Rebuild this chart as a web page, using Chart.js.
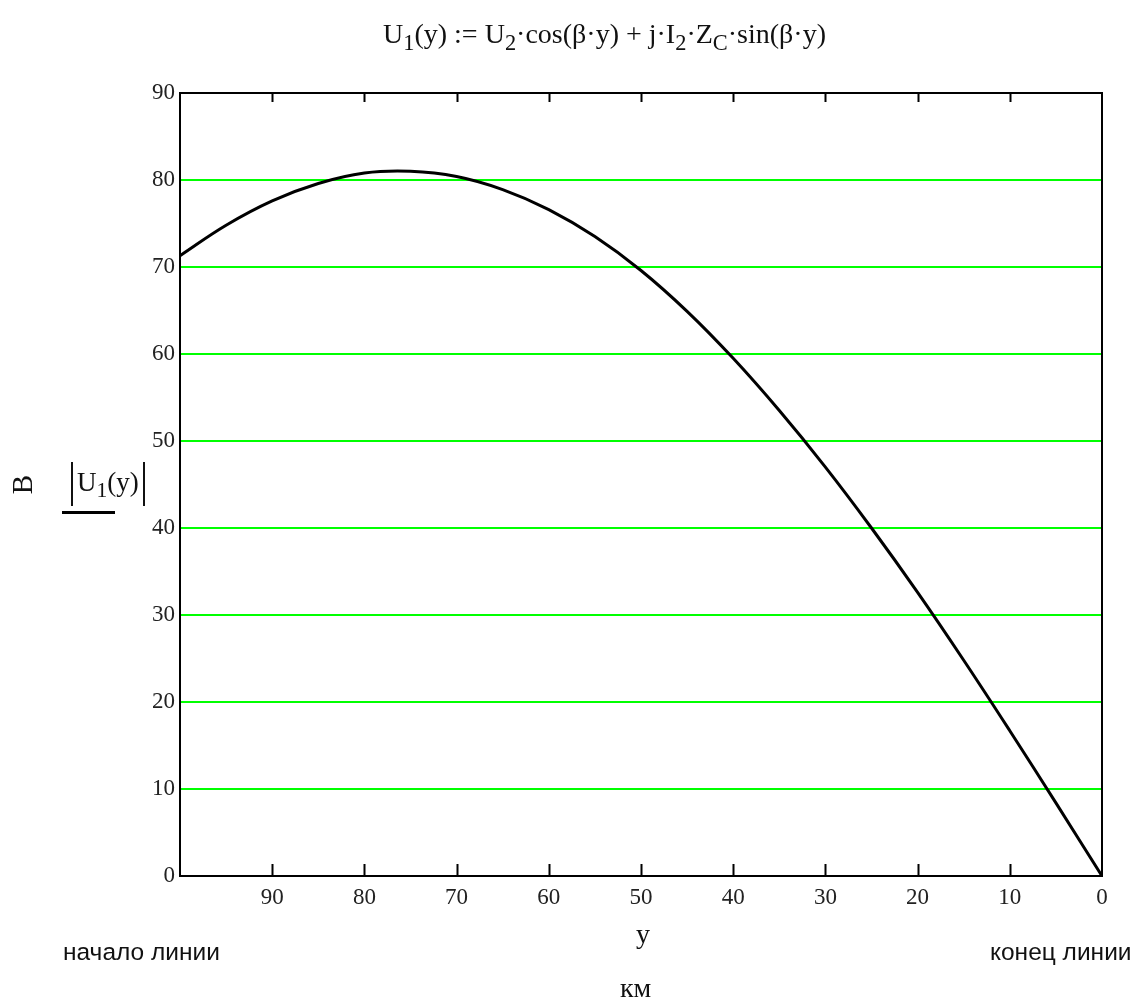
<!DOCTYPE html>
<html lang="ru">
<head>
    <meta charset="UTF-8">
    <title>U1(y)</title>
    <style>
        body { margin: 0; background: #fff; width: 1145px; height: 1007px; position: relative; overflow: hidden; }
        #chartBox { position: absolute; left: 0; top: 0; width: 1145px; height: 1007px; }
        .lbl { position: absolute; white-space: nowrap; color: #111; }
        .serif { font-family: "Liberation Serif", "DejaVu Serif", serif; }
        .sans { font-family: "Liberation Sans", Arial, sans-serif; }
        .sb { font-size: 80%; position: relative; top: 0.3em; }
        #title { left: 383px; top: 18px; font-size: 28px; }
        #yUnit { left: 13px; top: 468px; font-size: 29px; transform: rotate(-90deg); transform-origin: center; }
        #yExpr { left: 71px; top: 462px; height: 44px; font-size: 27px; line-height: 40px;
                 border-left: 2px solid #111; border-right: 2px solid #111; padding: 0 4px; }
        #trace { position: absolute; left: 62px; top: 511px; width: 53px; height: 3px; background: #000; }
        #xVar { left: 636px; top: 918px; font-size: 28px; }
        #xUnit { left: 620px; top: 972px; font-size: 28px; }
        #startTxt { left: 63px; top: 938px; font-size: 24.5px; }
        #endTxt { left: 990px; top: 938px; font-size: 24.5px; }
    </style>
</head>
<body>
    <div id="chartBox"><canvas id="uChart" width="1145" height="1007"></canvas></div>

    <div id="title" class="lbl serif">U<span class="sb">1</span>(y) := U<span class="sb">2</span>·cos(β·y) + j·I<span class="sb">2</span>·Z<span class="sb">C</span>·sin(β·y)</div>
    <div id="yUnit" class="lbl serif">В</div>
    <div id="yExpr" class="lbl serif">U<span class="sb">1</span>(y)</div>
    <div id="trace"></div>
    <div id="xVar" class="lbl serif">у</div>
    <div id="xUnit" class="lbl serif">км</div>
    <div id="startTxt" class="lbl sans">начало линии</div>
    <div id="endTxt" class="lbl sans">конец линии</div>

    <script src="https://cdn.jsdelivr.net/npm/chart.js"></script>
    <script>
        // расстояние от конца линии, км
        const kmValues = [0, 5, 10, 15, 20, 25, 30, 35, 40, 45, 50, 55, 60, 65, 70, 75, 80, 85, 90, 95, 100];
        // |U1(y)|, В
        const voltValues = [0, 8.4, 16.7, 24.8, 32.6, 40.0, 47.0, 53.5, 59.5, 64.9, 69.6, 73.5, 76.6, 78.9, 80.4, 81.0, 80.8, 79.6, 77.6, 74.8, 71.3];
        const xTicks = [0, 10, 20, 30, 40, 50, 60, 70, 80, 90];
        const yTicks = [0, 10, 20, 30, 40, 50, 60, 70, 80, 90];

        const points = kmValues.map((km, i) => ({ x: km, y: voltValues[i] }));
        const tickFont = { family: '"Liberation Serif", "DejaVu Serif", serif', size: 23 };

        // рамка и внутренние засечки по оси x
        const framePlugin = {
            id: 'frame',
            beforeDatasetsDraw(chart) {
                const { ctx, chartArea: a, scales } = chart;
                ctx.save();
                ctx.strokeStyle = '#000';
                ctx.lineWidth = 2;
                ctx.strokeRect(a.left, a.top, a.right - a.left, a.bottom - a.top);
                ctx.beginPath();
                xTicks.forEach(v => {
                    if (v === 0) return;
                    const px = Math.round(scales.x.getPixelForValue(v)) + 0.5;
                    ctx.moveTo(px, a.bottom);
                    ctx.lineTo(px, a.bottom - 12);
                    ctx.moveTo(px, a.top);
                    ctx.lineTo(px, a.top + 9);
                });
                ctx.stroke();
                ctx.restore();
            }
        };

        new Chart(document.getElementById('uChart'), {
            type: 'line',
            data: {
                datasets: [{
                    data: points,
                    borderColor: '#000',
                    borderWidth: 3,
                    pointRadius: 0,
                    tension: 0.4,
                    fill: false
                }]
            },
            options: {
                responsive: false,
                animation: false,
                events: [],
                layout: { padding: { left: 0, right: 43, top: 93, bottom: 0 } },
                plugins: { legend: { display: false }, tooltip: { enabled: false } },
                scales: {
                    x: {
                        type: 'linear',
                        reverse: true,
                        min: 0,
                        max: 100,
                        afterBuildTicks: s => { s.ticks = xTicks.map(v => ({ value: v })); },
                        afterFit: s => { s.height = 131; },
                        ticks: { font: tickFont, color: '#222', padding: 8, maxRotation: 0, autoSkip: false },
                        grid: { display: false, drawTicks: false },
                        border: { display: false }
                    },
                    y: {
                        min: 0,
                        max: 90,
                        afterBuildTicks: s => { s.ticks = yTicks.map(v => ({ value: v })); },
                        afterFit: s => { s.width = 180; },
                        ticks: { font: tickFont, color: '#222', padding: 5 },
                        grid: { color: '#00ff00', lineWidth: 2, drawTicks: false },
                        border: { display: false }
                    }
                }
            },
            plugins: [framePlugin]
        });
    </script>
</body>
</html>
